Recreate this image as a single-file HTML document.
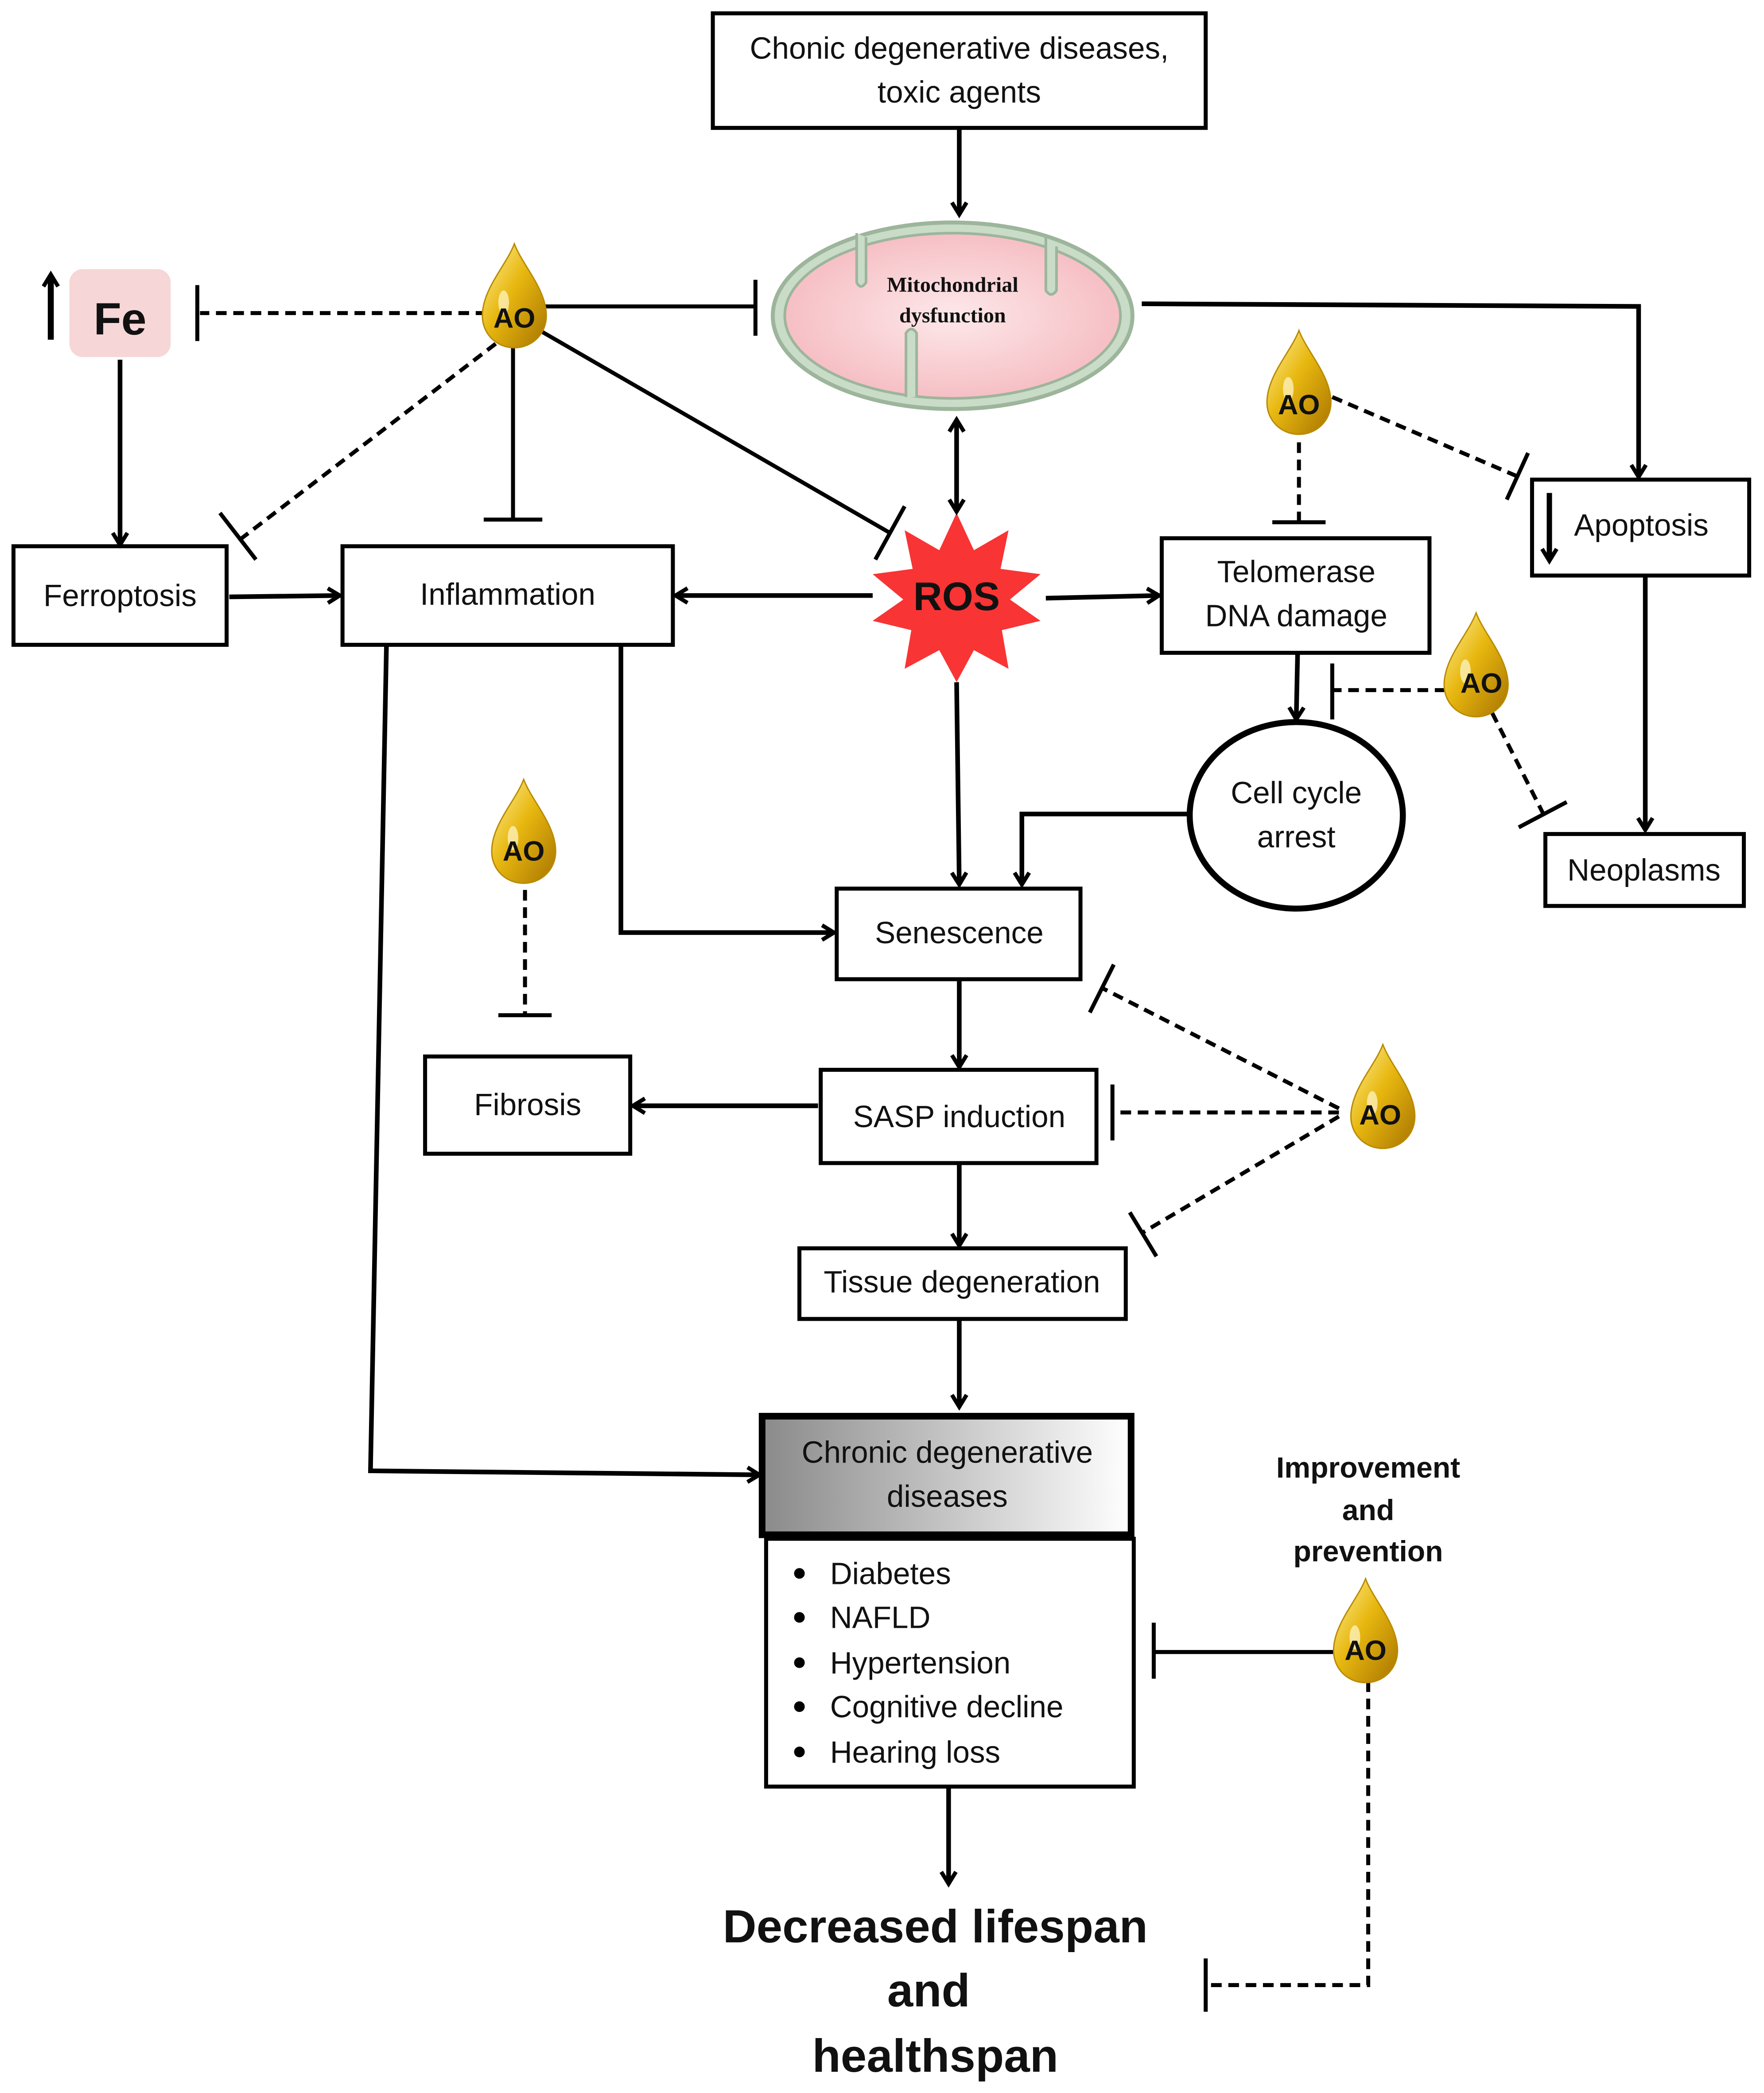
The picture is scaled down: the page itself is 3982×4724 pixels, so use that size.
<!DOCTYPE html>
<html><head><meta charset="utf-8">
<style>
html,body{margin:0;padding:0;background:#fff;}
svg{display:block;}
text{font-family:"Liberation Sans",sans-serif;fill:#111;}
</style></head>
<body>
<svg width="3982" height="4724" viewBox="0 0 1324 1571" xmlns="http://www.w3.org/2000/svg">
<defs>
<marker id="ah" markerWidth="14" markerHeight="14" refX="10" refY="7" orient="auto" markerUnits="userSpaceOnUse">
<path d="M2,1.5 L11,7 L2,12.5" fill="none" stroke="#000" stroke-width="3"/>
</marker>
<linearGradient id="gold" x1="0" y1="0" x2="1" y2="1">
<stop offset="0" stop-color="#fff2a0"/><stop offset="0.45" stop-color="#e8b810"/><stop offset="1" stop-color="#a87400"/>
</linearGradient>
<linearGradient id="gray" x1="0" y1="0" x2="1" y2="0">
<stop offset="0" stop-color="#8a8a8a"/><stop offset="1" stop-color="#ffffff"/>
</linearGradient>
<radialGradient id="pink" cx="0.5" cy="0.5" r="0.6">
<stop offset="0" stop-color="#fde8ea"/><stop offset="1" stop-color="#f4b7bd"/>
</radialGradient>
<g id="drop">
<path d="M0,-52 C6,-36 24,-18 24,2 C24,16 13,26 0,26 C-13,26 -24,16 -24,2 C-24,-18 -6,-36 0,-52 Z" fill="url(#gold)" stroke="#b98a00" stroke-width="1"/>
<ellipse cx="-8" cy="-8" rx="4" ry="9" fill="#fff8d0" opacity="0.7"/>
</g>
</defs>

<g fill="none" stroke="#000" stroke-width="3">
<rect x="535" y="10" width="370" height="86"/>
<rect x="10" y="410" width="160" height="74"/>
<rect x="257" y="410" width="248" height="74"/>
<rect x="872" y="404" width="201" height="86"/>
<rect x="1150" y="360" width="163" height="72"/>
<rect x="1160" y="626" width="149" height="54"/>
<rect x="628" y="667" width="183" height="68"/>
<rect x="319" y="793" width="154" height="73"/>
<rect x="616" y="803" width="207" height="70"/>
<rect x="600" y="937" width="245" height="53"/>
<rect x="575" y="1155" width="276" height="186"/>
<ellipse cx="973" cy="612" rx="80" ry="70" stroke-width="4.5"/>
</g>
<rect x="572" y="1063" width="277" height="89" fill="url(#gray)" stroke="#000" stroke-width="5"/>

<rect x="52" y="202" width="76" height="66" rx="10" fill="#f6d6d6"/>
<text x="90" y="251" font-size="34" font-weight="bold" text-anchor="middle">Fe</text>

<ellipse cx="715" cy="237" rx="135" ry="70" fill="#c9dcc8" stroke="#9db59b" stroke-width="3"/>
<ellipse cx="715" cy="237" rx="126" ry="62" fill="url(#pink)" stroke="#9db59b" stroke-width="2"/>
<path d="M643,175 L643,212 Q646,218 650,212 L650,178 M785,178 L785,218 Q789,224 793,218 L793,185 M680,298 L680,250 Q684,244 688,250 L688,298" fill="#c9dcc8" stroke="#9db59b" stroke-width="2"/>
<text x="715" y="219" style="font-family:'Liberation Serif',serif" font-size="16" font-weight="bold" text-anchor="middle">Mitochondrial</text>
<text x="715" y="242" style="font-family:'Liberation Serif',serif" font-size="16" font-weight="bold" text-anchor="middle">dysfunction</text>

<polygon fill="#f83434" points="718,385 731,413 757,398 751,427 781,431 758,450 781,466 752,473 757,502 731,488 718,512 705,488 679,502 684,473 655,466 678,450 655,431 685,427 679,398 705,413"/>
<text x="718" y="458" font-size="30" font-weight="bold" text-anchor="middle" fill="#111">ROS</text>

<g fill="none" stroke="#000" stroke-width="3.5" marker-end="url(#ah)">
<line x1="38" y1="255" x2="38" y2="207" stroke-width="4.5"/>
<line x1="720" y1="96" x2="720" y2="160"/>
<line x1="90" y1="270" x2="90" y2="408"/>
<line x1="172" y1="448" x2="254" y2="447"/>
<line x1="655" y1="447" x2="508" y2="447"/>
<line x1="785" y1="449" x2="869" y2="447"/>
<line x1="718" y1="512" x2="720" y2="663"/>
<line x1="974" y1="490" x2="973" y2="539"/>
<polyline points="892,611 767,611 767,663"/>
<polyline points="466,484 466,700 625,700"/>
<polyline points="290,484 278,1104 569,1107"/>
<polyline points="857,228 1230,230 1230,357"/>
<line x1="1163" y1="370" x2="1163" y2="420" stroke-width="4"/>
<line x1="1235" y1="432" x2="1235" y2="622"/>
<line x1="720" y1="735" x2="720" y2="800"/>
<line x1="614" y1="830" x2="476" y2="830"/>
<line x1="720" y1="873" x2="720" y2="934"/>
<line x1="720" y1="990" x2="720" y2="1055"/>
<line x1="712" y1="1341" x2="712" y2="1413"/>
<line x1="718" y1="350" x2="718" y2="383"/>
<line x1="718" y1="350" x2="718" y2="316"/>
</g>

<g fill="none" stroke="#000" stroke-width="3">
<line x1="405" y1="230" x2="567" y2="230"/><line x1="567" y1="210" x2="567" y2="252"/>
<line x1="385" y1="258" x2="385" y2="390"/><line x1="363" y1="390" x2="407" y2="390"/>
<line x1="405" y1="248" x2="668" y2="400"/><line x1="657" y1="420" x2="679" y2="380"/>
<line x1="1005" y1="1240" x2="866" y2="1240"/><line x1="866" y1="1218" x2="866" y2="1260"/>
</g>

<g fill="none" stroke="#000" stroke-width="3" stroke-dasharray="8,5">
<line x1="365" y1="235" x2="150" y2="235"/>
<line x1="372" y1="258" x2="180" y2="405"/>
<line x1="1000" y1="298" x2="1140" y2="358"/>
<line x1="975" y1="332" x2="975" y2="392"/>
<line x1="1085" y1="518" x2="1000" y2="518"/>
<line x1="1120" y1="535" x2="1158" y2="610"/>
<line x1="394" y1="668" x2="394" y2="762"/>
<line x1="1005" y1="832" x2="828" y2="742"/>
<line x1="1005" y1="835" x2="835" y2="835"/>
<line x1="1005" y1="838" x2="858" y2="925"/>
<polyline points="1027,1262 1027,1490 905,1490"/>
</g>
<g fill="none" stroke="#000" stroke-width="3">
<line x1="148" y1="214" x2="148" y2="256"/>
<line x1="165" y1="385" x2="192" y2="420"/>
<line x1="1131" y1="375" x2="1147" y2="340"/>
<line x1="955" y1="392" x2="995" y2="392"/>
<line x1="1000" y1="498" x2="1000" y2="540"/>
<line x1="1140" y1="621" x2="1176" y2="602"/>
<line x1="374" y1="762" x2="414" y2="762"/>
<line x1="818" y1="760" x2="836" y2="724"/>
<line x1="835" y1="814" x2="835" y2="856"/>
<line x1="848" y1="910" x2="868" y2="943"/>
<line x1="905" y1="1470" x2="905" y2="1510"/>
</g>

<g>
<use href="#drop" x="386" y="235"/><text x="386" y="246" font-size="21" font-weight="bold" text-anchor="middle">AO</text>
<use href="#drop" x="975" y="300"/><text x="975" y="311" font-size="21" font-weight="bold" text-anchor="middle">AO</text>
<use href="#drop" x="1108" y="512"/><text x="1112" y="520" font-size="21" font-weight="bold" text-anchor="middle">AO</text>
<use href="#drop" x="393" y="637"/><text x="393" y="646" font-size="21" font-weight="bold" text-anchor="middle">AO</text>
<use href="#drop" x="1038" y="836"/><text x="1036" y="844" font-size="21" font-weight="bold" text-anchor="middle">AO</text>
<use href="#drop" x="1025" y="1237"/><text x="1025" y="1246" font-size="21" font-weight="bold" text-anchor="middle">AO</text>
</g>

<g font-size="23" text-anchor="middle">
<text x="720" y="44">Chonic degenerative diseases,</text>
<text x="720" y="77">toxic agents</text>
<text x="90" y="455">Ferroptosis</text>
<text x="381" y="454">Inflammation</text>
<text x="973" y="437">Telomerase</text>
<text x="973" y="470">DNA damage</text>
<text x="1232" y="402">Apoptosis</text>
<text x="1234" y="661">Neoplasms</text>
<text x="973" y="603">Cell cycle</text>
<text x="973" y="636">arrest</text>
<text x="720" y="708">Senescence</text>
<text x="396" y="837">Fibrosis</text>
<text x="720" y="846">SASP induction</text>
<text x="722" y="970">Tissue degeneration</text>
<text x="711" y="1098" fill="#222">Chronic degenerative</text>
<text x="711" y="1131" fill="#222">diseases</text>
</g>
<g font-size="23">
<text x="623" y="1189">Diabetes</text>
<text x="623" y="1222">NAFLD</text>
<text x="623" y="1256">Hypertension</text>
<text x="623" y="1289">Cognitive decline</text>
<text x="623" y="1323">Hearing loss</text>
</g>
<g fill="#000">
<circle cx="600" cy="1181" r="4"/><circle cx="600" cy="1214" r="4"/><circle cx="600" cy="1248" r="4"/><circle cx="600" cy="1281" r="4"/><circle cx="600" cy="1315" r="4"/>
</g>
<g font-size="22" font-weight="bold" text-anchor="middle">
<text x="1027" y="1109">Improvement</text>
<text x="1027" y="1141">and</text>
<text x="1027" y="1172">prevention</text>
</g>
<g font-size="35" font-weight="bold" text-anchor="middle">
<text x="702" y="1458">Decreased lifespan</text>
<text x="697" y="1506">and</text>
<text x="702" y="1555">healthspan</text>
</g>
</svg>
</body></html>
